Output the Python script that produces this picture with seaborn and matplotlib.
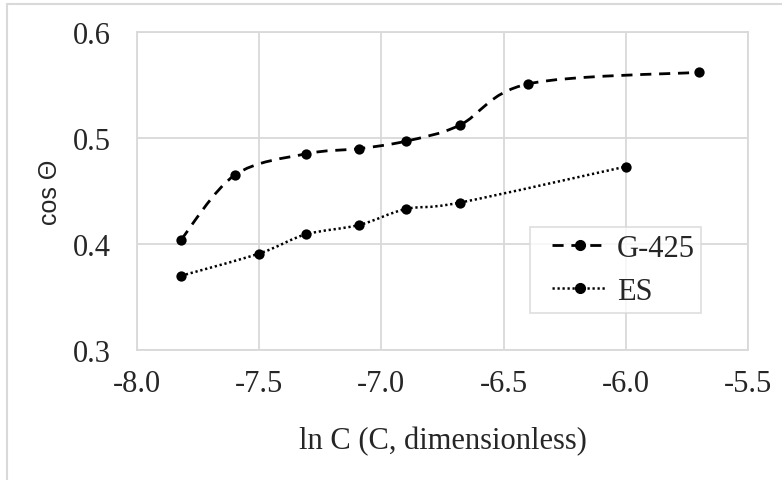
import numpy as np
import pandas as pd
import matplotlib
matplotlib.use("Agg")
import matplotlib.pyplot as plt
import seaborn as sns
from matplotlib.path import Path
from matplotlib.patches import PathPatch
from matplotlib.lines import Line2D
from matplotlib.legend_handler import HandlerLine2D

# data
x_g425 = [-7.82, -7.60, -7.31, -7.09, -6.90, -6.68, -6.40, -5.70]
y_g425 = [0.404, 0.465, 0.485, 0.490, 0.497, 0.512, 0.551, 0.562]
x_es = [-7.82, -7.50, -7.31, -7.09, -6.90, -6.68, -6.00]
y_es = [0.370, 0.391, 0.409, 0.418, 0.433, 0.439, 0.473]

x_ticks = [-8.0, -7.5, -7.0, -6.5, -6.0, -5.5]
y_ticks = [0.3, 0.4, 0.5, 0.6]

df = pd.concat([
    pd.DataFrame({"lnC": x_g425, "cos": y_g425, "series": "G-425"}),
    pd.DataFrame({"lnC": x_es, "cos": y_es, "series": "ES"}),
])

sns.set_style("white")
plt.rcParams['font.family'] = ['Liberation Serif', 'DejaVu Serif']

GRID = "#d9d9d9"


def smooth_path(xs, ys):
    # Excel-style smoothed line: cubic Bezier through every point
    p = np.column_stack([xs, ys])
    n = len(p)
    verts = [p[0]]
    codes = [Path.MOVETO]
    for i in range(n - 1):
        p0 = p[max(i - 1, 0)]
        p1 = p[i]
        p2 = p[i + 1]
        p3 = p[min(i + 2, n - 1)]
        c1 = p1 + (p2 - p0) / 6.0
        c2 = p2 - (p3 - p1) / 6.0
        verts += [c1, c2, p2]
        codes += [Path.CURVE4] * 3
    return Path(verts, codes)


fig = plt.figure(figsize=(7.82, 4.81), dpi=100)
ax = fig.add_axes([0.1752, 0.2703, 0.7813, 0.6611])

styles = {
    "G-425": dict(ls=(0, (4, 2.8)), lw=2.0),
    "ES": dict(ls=(0, (0.9, 1.1)), lw=1.8),
}

for name, xs, ys in [("G-425", x_g425, y_g425), ("ES", x_es, y_es)]:
    patch = PathPatch(smooth_path(xs, ys), facecolor="none", edgecolor="black",
                      linestyle=styles[name]["ls"], linewidth=styles[name]["lw"],
                      capstyle="butt", zorder=3)
    ax.add_patch(patch)

sns.scatterplot(data=df, x="lnC", y="cos", color="black", s=55,
                edgecolor="black", linewidth=0, legend=False, ax=ax, zorder=4)

ax.set_xlim(-8.0, -5.5)
ax.set_ylim(0.3, 0.6)
ax.set_xticks(x_ticks)
ax.set_yticks(y_ticks)
ax.set_xticklabels([f"{v:.1f}" for v in x_ticks])
ax.set_yticklabels([f"{v:.1f}" for v in y_ticks])
ax.tick_params(axis="both", length=0, labelsize=22)
ax.tick_params(axis="x", pad=14)
ax.tick_params(axis="y", pad=19)
ax.grid(True, color=GRID, linewidth=1.3)
ax.set_axisbelow(True)
for sp in ax.spines.values():
    sp.set_color(GRID)
    sp.set_linewidth(1.3)

ax.set_xlabel("ln C (C, dimensionless)", fontsize=22, labelpad=20)
ax.set_ylabel("cos Θ", fontsize=18, family=['Liberation Sans', 'DejaVu Sans'],
              labelpad=8)

handles = [
    Line2D([], [], color="black", marker="o", markersize=7,
           linestyle=styles["G-425"]["ls"], linewidth=styles["G-425"]["lw"]),
    Line2D([], [], color="black", marker="o", markersize=7,
           linestyle=styles["ES"]["ls"], linewidth=styles["ES"]["lw"]),
]
leg = ax.legend(handles, ["G-425", "ES"], loc="upper left",
                bbox_to_anchor=(0.643, 0.387), fontsize=22, frameon=True,
                fancybox=False, edgecolor=GRID, handlelength=2.32,
                handletextpad=0.3, borderpad=0.22, labelspacing=0.47,
                borderaxespad=0,
                handler_map={Line2D: HandlerLine2D(xpad=0.52)})
leg.get_frame().set_linewidth(1.3)

# chart-area border (only top and left visible in the crop)
fig.add_artist(Line2D([0.009, 1.0], [0.9896, 0.9896], color=GRID, lw=1.5,
                      transform=fig.transFigure))
fig.add_artist(Line2D([0.009, 0.009], [0.0, 0.9896], color=GRID, lw=1.5,
                      transform=fig.transFigure))

fig.savefig("out.png", dpi=100)
